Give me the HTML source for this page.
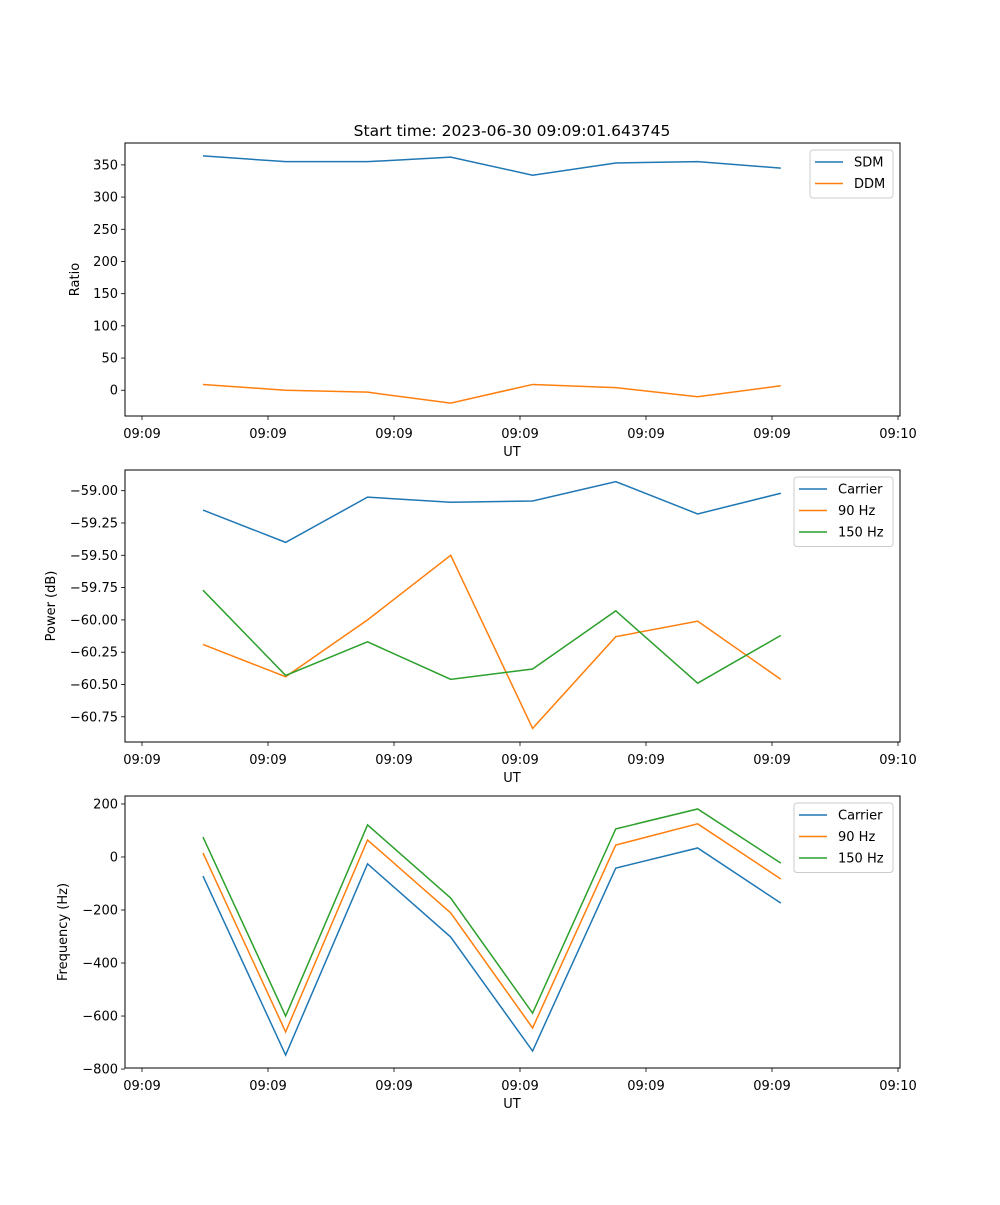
<!DOCTYPE html>
<html><head><meta charset="utf-8"><style>
body{margin:0;background:#fff}
svg text{font-family:"DejaVu Sans","Liberation Sans",sans-serif;font-size:13px;fill:#000}
</style></head><body>
<svg id="c" width="1000" height="1200" xmlns="http://www.w3.org/2000/svg">
<text x="512" y="136" text-anchor="middle" style="font-size:15.5px">Start time: 2023-06-30 09:09:01.643745</text>
</svg>
<script>
const times = [4.84, 11.4, 17.9, 24.5, 31.0, 37.6, 44.1, 50.7];
const xTickVals = [0, 10, 20, 30, 40, 50, 60];
const xTickLabels = ["09:09","09:09","09:09","09:09","09:09","09:09","09:10"];
const sdm = [364, 355, 355, 362, 334, 353, 355, 345];
const ddm = [9, 0, -3, -20, 9, 4, -10, 7];
const pCarrier = [-59.15, -59.40, -59.05, -59.09, -59.08, -58.93, -59.18, -59.02];
const p90 = [-60.19, -60.44, -60.00, -59.50, -60.84, -60.13, -60.01, -60.46];
const p150 = [-59.77, -60.43, -60.17, -60.46, -60.38, -59.93, -60.49, -60.12];
const fCarrier = [-72, -747, -26, -302, -732, -42, 34, -174];
const f90 = [15, -660, 64, -211, -645, 45, 125, -83];
const f150 = [75, -600, 121, -155, -589, 106, 181, -23];
const ratioTicks = [0, 50, 100, 150, 200, 250, 300, 350];
const powerTicks = [-59.00, -59.25, -59.50, -59.75, -60.00, -60.25, -60.50, -60.75];
const freqTicks = [200, 0, -200, -400, -600, -800];

const svg = document.getElementById('c');
const NS = 'http://www.w3.org/2000/svg';
function mk(t, a, parent){const e=document.createElementNS(NS,t);for(const k in a)e.setAttribute(k,a[k]);(parent||svg).appendChild(e);return e;}
const L=125,R=900;
const xs = t => 142 + t*12.6;

function panel(name, top, bot, ymin, ymax, yTicks, fmt, ylabel, series, legend){
  const ys = v => bot - (v-ymin)/(ymax-ymin)*(bot-top);
  const g = mk('g',{});
  
  
  yTicks.forEach(v=>{
    const y=ys(v);
    mk('line',{x1:L-4,x2:L,y1:y,y2:y,stroke:'#000','stroke-width':0.8},g);
    const t=mk('text',{x:L-7,y:y+4.5,'text-anchor':'end'},g);
    t.textContent=fmt(v);
    
    
  });
  xTickVals.forEach((v,i)=>{
    const x=xs(v);
    mk('line',{x1:x,x2:x,y1:bot,y2:bot+4,stroke:'#000','stroke-width':0.8},g);
    const t=mk('text',{x:x,y:bot+22,'text-anchor':'middle'},g);
    t.textContent=xTickLabels[i];
    
    
  });
  const xl=mk('text',{x:512,y:bot+40,'text-anchor':'middle'},g);
  xl.textContent='UT';
  
  
  const yl=mk('text',{x:0,y:0,'text-anchor':'middle',transform:`translate(${name==='ratio'?79:name==='power'?55:67},${(top+bot)/2}) rotate(-90)`},g);
  yl.textContent=ylabel;
  
  
  series.forEach(s=>{
    const p=mk('polyline',{points:s.vals.map((v,i)=>xs(times[i])+','+ys(v)).join(' '),fill:'none',stroke:s.color,'stroke-width':1.5},g);
    
    
  });
  mk('rect',{x:L,y:top,width:R-L,height:bot-top,fill:'none',stroke:'#000','stroke-width':1},g);
  const lg=mk('g',{},g);
  
  
  mk('rect',{x:legend.x,y:top+7,width:893-legend.x,height:series.length*21.5+5,rx:3,fill:'#fff',stroke:'#ccc','stroke-width':1},lg);
  series.forEach((s,i)=>{
    const y=top+19+i*21.5;
    mk('line',{x1:legend.x+5,x2:legend.x+33,y1:y,y2:y,stroke:s.color,'stroke-width':1.5},lg);
    const t=mk('text',{x:legend.x+44,y:y+4.5},lg);
    t.textContent=s.label;
    
    
  });
}
const B='#1f77b4',O='#ff7f0e',G='#2ca02c';
panel('ratio',143,416,-40,384,ratioTicks,v=>v.toString().replace('-','−'),'Ratio',
  [{key:'sdm',label:'SDM',vals:sdm,color:B},{key:'ddm',label:'DDM',vals:ddm,color:O}],{x:810});
panel('power',470,742,-60.945,-58.84,powerTicks,v=>v.toFixed(2).replace('-','−'),'Power (dB)',
  [{key:'carrier',label:'Carrier',vals:pCarrier,color:B},{key:'90hz',label:'90 Hz',vals:p90,color:O},{key:'150hz',label:'150 Hz',vals:p150,color:G}],{x:794});
panel('frequency',796,1068,-796,230,freqTicks,v=>v.toString().replace('-','−'),'Frequency (Hz)',
  [{key:'carrier',label:'Carrier',vals:fCarrier,color:B},{key:'90hz',label:'90 Hz',vals:f90,color:O},{key:'150hz',label:'150 Hz',vals:f150,color:G}],{x:794});
</script>
</body></html>
